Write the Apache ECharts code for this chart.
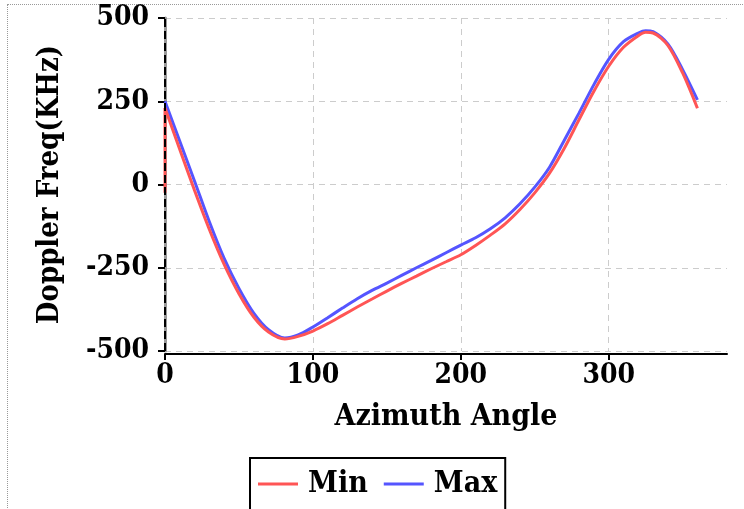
<!DOCTYPE html>
<html>
<head>
<meta charset="utf-8">
<script src="https://cdn.jsdelivr.net/npm/echarts@6/dist/echarts.min.js"></script>
<style>
  html, body { margin: 0; padding: 0; background: #fff; overflow: hidden; }
  #frame { position: absolute; left: 7px; top: 4px; width: 900px; height: 700px; border: 1px dotted #999; }
  #main { position: absolute; left: 0; top: 0; width: 744px; height: 509px; }
</style>
</head>
<body>
<div id="frame"></div>
<div id="main"></div>
<script>
var FONT = '"DejaVu Serif Condensed", "DejaVu Serif", serif';

// azimuth angle (deg)
var angles = [0, 10, 20, 30, 40, 50, 60, 70, 81, 90, 100, 110, 120, 130, 140, 150, 160, 170, 180,
              190, 200, 210, 220, 230, 240, 250, 260, 270, 280, 290, 300, 310, 320, 325, 330, 340, 350, 360];
// doppler freq (KHz)
var minFreq = [230, 105, -18, -135, -240, -328, -398, -443, -464, -456, -440, -418, -393, -368, -344, -320, -297, -275, -253,
               -232, -211, -183, -152, -118, -75, -25, 34, 109, 195, 280, 355, 412, 447, 457, 455, 418, 335, 229];
var maxFreq = [250, 130, 10, -112, -222, -312, -386, -436, -461, -452, -428, -400, -371, -343, -318, -296, -273, -250, -228,
               -205, -182, -160, -133, -100, -58, -8, 52, 133, 215, 300, 376, 429, 455, 462, 459, 422, 345, 254];
// the Min trace begins with a jump at 0 deg
var minStart = [[0, -25], [0, 230]];

var yTicks = [-500, -250, 0, 250, 500];
var xTicks = [0, 100, 200, 300];

var chart = echarts.init(document.getElementById('main'));

function pairs(xs, ys) {
    return xs.map(function (x, i) { return [x, ys[i]]; });
}

var option = {
    animation: false,
    grid: {
        left: 165,
        right: 17,
        top: 18,
        bottom: 158,
        containLabel: false
    },
    legend: {
        left: 250,
        top: 458,
        data: ['Min', 'Max'],
        borderColor: '#000',
        borderWidth: 2,
        padding: [11, 8, 40, 8],
        itemWidth: 40,
        itemHeight: 3,
        itemGap: 16,
        icon: 'rect',
        textStyle: {
            fontFamily: FONT,
            fontWeight: 'bold',
            fontSize: 30,
            color: '#000',
            padding: [0, 0, 0, 5]
        }
    },
    xAxis: {
        type: 'value',
        min: 0,
        max: 380,
        interval: 100,
        offset: 3,
        name: 'Azimuth Angle',
        nameLocation: 'middle',
        nameGap: 48,
        nameTextStyle: { fontFamily: FONT, fontWeight: 'bold', fontSize: 30, color: '#000' },
        axisLine: { onZero: false, lineStyle: { color: '#000', width: 2 } },
        axisTick: { length: 6, customValues: xTicks, lineStyle: { color: '#000', width: 2 } },
        axisLabel: {
            fontFamily: FONT, fontWeight: 'bold', fontSize: 28, color: '#000', margin: 8,
            customValues: xTicks
        },
        splitLine: { show: true, lineStyle: { color: '#ccc', type: [6, 5], width: 1 } }
    },
    yAxis: {
        type: 'value',
        min: yTicks[0],
        max: yTicks[yTicks.length - 1],
        interval: 250,
        name: 'Doppler Freq(KHz)',
        nameLocation: 'middle',
        nameGap: 100,
        nameTextStyle: { fontFamily: FONT, fontWeight: 'bold', fontSize: 29, color: '#000' },
        axisLine: { show: true, lineStyle: { color: '#999', width: 3 } },
        axisTick: { show: true, length: 7, lineStyle: { color: '#000', width: 2 } },
        axisLabel: { fontFamily: FONT, fontWeight: 'bold', fontSize: 28, color: '#000', margin: 16 },
        splitLine: { show: true, lineStyle: { color: '#ccc', type: [6, 5], width: 1 } }
    },
    series: [
        {
            // dashed black axis line drawn over the grey one
            type: 'line',
            data: [],
            z: 1,
            silent: true,
            markLine: {
                silent: true,
                symbol: 'none',
                label: { show: false },
                lineStyle: { color: '#000', type: [8, 4], width: 2 },
                data: [{ xAxis: 0 }]
            }
        },
        {
            name: 'Min',
            type: 'line',
            data: minStart,
            showSymbol: false,
            z: 3,
            lineStyle: { color: '#ff5555', width: 3 },
            itemStyle: { color: '#ff5555' }
        },
        {
            name: 'Min',
            type: 'line',
            data: pairs(angles, minFreq),
            smooth: 0.3,
            showSymbol: false,
            z: 3,
            lineStyle: { color: '#ff5555', width: 3 },
            itemStyle: { color: '#ff5555' }
        },
        {
            name: 'Max',
            type: 'line',
            data: pairs(angles, maxFreq),
            smooth: 0.3,
            showSymbol: false,
            z: 2,
            lineStyle: { color: '#5555ff', width: 3 },
            itemStyle: { color: '#5555ff' }
        }
    ]
};

chart.setOption(option);
</script>
</body>
</html>
